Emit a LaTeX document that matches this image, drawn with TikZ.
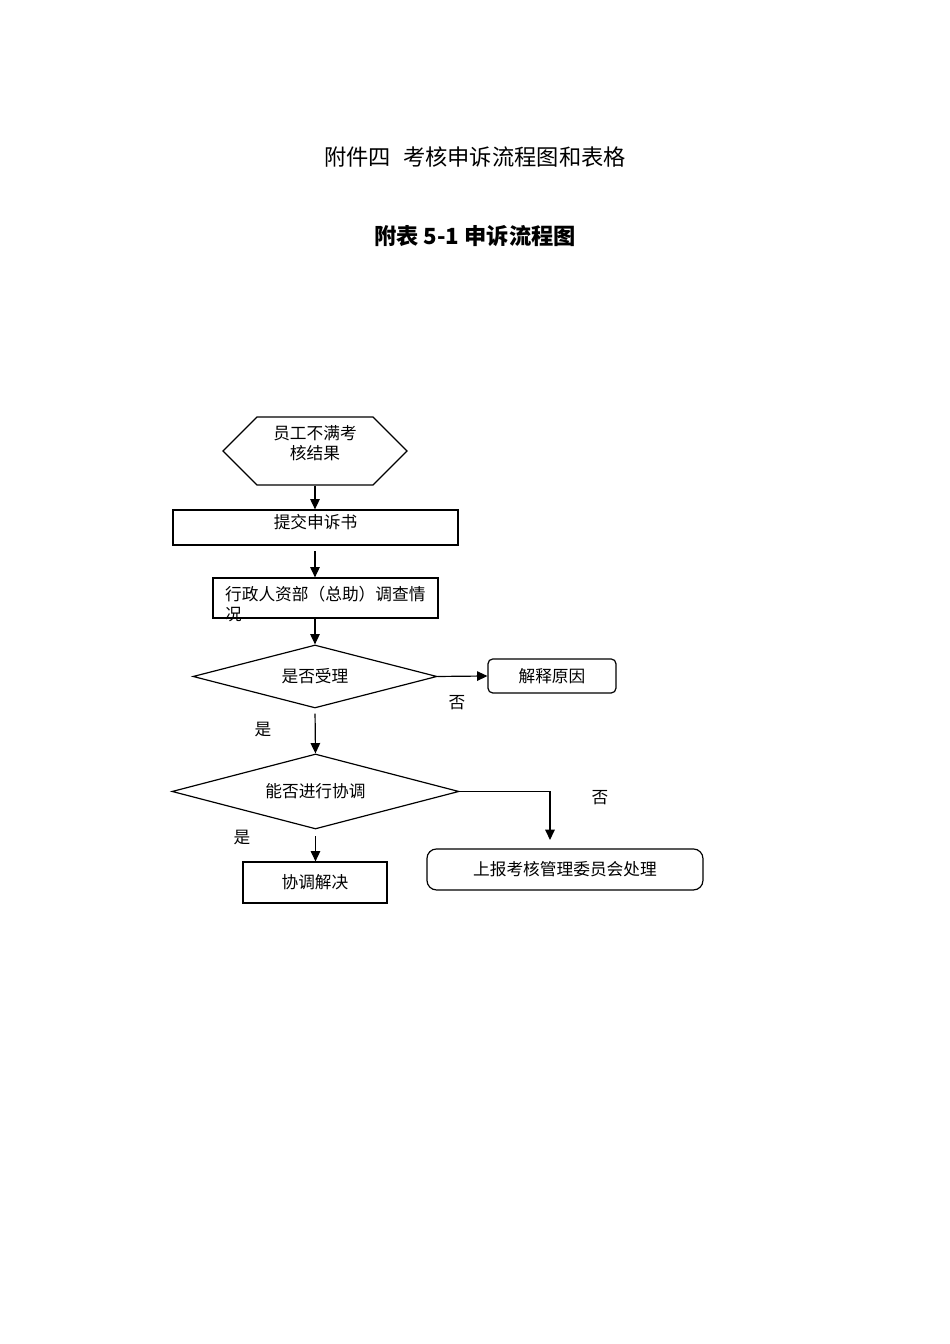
\documentclass[tikz,border=0pt]{standalone}
\usepackage{fontspec}
\setmainfont{Noto Sans CJK SC}
\usepackage{tikz}
\usetikzlibrary{positioning,arrows.meta,calc,shapes.geometric,shapes.symbols}

\begin{document}
\begin{tikzpicture}[
        texto/.style={font=\fontsize{10.5pt}{12.6pt}\selectfont, inner sep=0pt},
        caja/.style={texto, rectangle, draw, line width=0.75pt, align=center},
        cajaRedonda/.style={caja, rounded corners=3pt},
        rombo/.style={texto, diamond, draw, line width=0.75pt},
        hexagono/.style={texto, signal, signal to=west and east, signal pointer angle=90,
            draw, line width=0.75pt},
        flecha/.style={-{Triangle[length=6.5pt, width=6pt]}, line width=0.75pt},
        titulo/.style={font=\fontsize{14pt}{17pt}\selectfont},
        tituloNegrita/.style={font=\fontsize{14pt}{17pt}\selectfont\bfseries}
    ]
        \useasboundingbox (0, 0) rectangle (21, -29.71);

        \node[titulo] (anexo) at (10.5, -3.47) {附件四\hspace{0.55em}考核申诉流程图和表格};
        \node[tituloNegrita] (tabla) at (10.5, -5.22) {附表 5-1 申诉流程图};

        \node[hexagono, minimum width=4.07cm, minimum height=1.5cm,
            label={[texto, align=center, yshift=0.18cm]center:员工不满考\\核结果}] (inicio) at (6.963, -9.97) {};
        \node[caja, minimum width=6.30cm, minimum height=0.774cm,
            label={[texto, yshift=0.12cm]center:提交申诉书}] (entrega) at (6.974, -11.66) {};
        \node[caja, minimum width=4.974cm, minimum height=0.884cm] (investiga) at (7.195, -13.219) {};
        \node[texto, anchor=north west, align=left] (investigaTexto) at (4.97, -12.96) {行政人资部（总助）调查情\\况};
        \node[rombo, aspect=3.9, minimum width=5.394cm, minimum height=1.393cm] (acepta) at (6.963, -14.954) {是否受理};
        \node[cajaRedonda, minimum width=2.829cm, minimum height=0.752cm] (explica) at (12.202, -14.943) {解释原因};
        \node[rombo, aspect=3.8, minimum width=6.344cm, minimum height=1.658cm] (concilia) at (6.974, -17.496) {能否进行协调};
        \node[caja, minimum width=3.183cm, minimum height=0.906cm] (resuelve) at (6.963, -19.508) {协调解决};
        \node[caja, rounded corners=6pt, minimum width=6.101cm, minimum height=0.906cm] (comite) at (12.489, -19.22) {上报考核管理委员会处理};
        \coordinate (bajada) at (12.158, -18.568);

        \draw[flecha] (inicio.south) -- (inicio.south |- entrega.north);
        \draw[flecha, shorten <=0.13cm] (entrega.south -| inicio.south) -- (inicio.south |- investiga.north);
        \draw[flecha] (investiga.south -| acepta.north) -- (acepta.north);
        \draw[flecha] (acepta.east) -- (explica.west);
        \draw[flecha, shorten <=0.11cm] (acepta.south) -- (concilia.north);
        \draw[flecha, shorten <=0.15cm] (concilia.south) -- (concilia.south |- resuelve.north);
        \draw[flecha] (concilia.east) -| (bajada);

        \node[texto] (noAcepta) at (10.102, -15.54) {否};
        \node[texto] (siAcepta) at (5.814, -16.137) {是};
        \node[texto] (noConcilia) at (13.263, -17.64) {否};
        \node[texto] (siConcilia) at (5.349, -18.524) {是};
    \end{tikzpicture}
\end{document}
